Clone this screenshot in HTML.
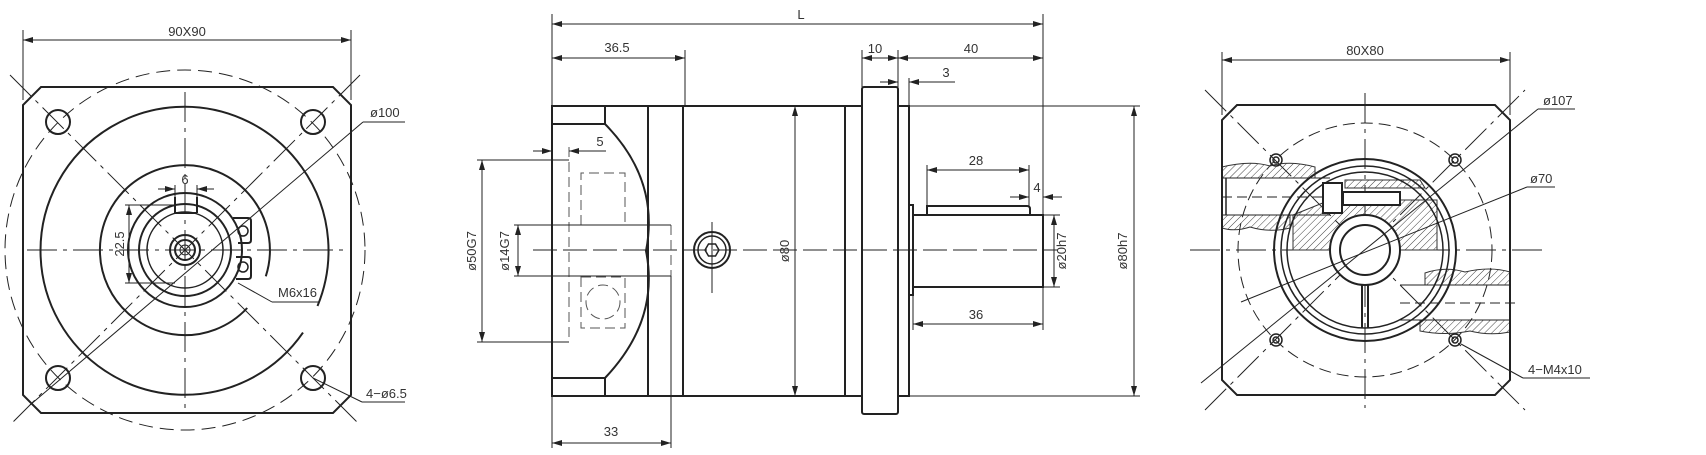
<!DOCTYPE html>
<html><head><meta charset="utf-8"><style>
html,body{margin:0;padding:0;background:#fff;}
svg{display:block;}
text{font-family:"Liberation Sans",sans-serif;fill:#333;font-size:13px;}
</style></head><body>
<svg width="1706" height="455" viewBox="0 0 1706 455" xmlns="http://www.w3.org/2000/svg">
<defs>
<marker id="a" viewBox="0 0 10 6" refX="10" refY="3" markerWidth="10" markerHeight="6" orient="auto-start-reverse" markerUnits="userSpaceOnUse"><path d="M0,0 L10,3 L0,6 z" fill="#222"/></marker>
<pattern id="h" width="5" height="5" patternUnits="userSpaceOnUse" patternTransform="rotate(45)"><line x1="0" y1="0" x2="0" y2="5" stroke="#444" stroke-width="1"/></pattern>
</defs>
<g fill="none" stroke="#222" stroke-width="1">
<!-- ============ LEFT VIEW ============ -->
<line x1="23" y1="30" x2="23" y2="100"/><line x1="351" y1="30" x2="351" y2="100"/>
<line x1="23" y1="40" x2="351" y2="40" marker-start="url(#a)" marker-end="url(#a)"/>
<circle cx="185" cy="250" r="180" stroke-dasharray="14,7"/>
<polygon points="41,87 333,87 351,105 351,395 333,413 41,413 23,395 23,105" stroke-width="2"/>
<line x1="10" y1="75" x2="360" y2="425" stroke-dasharray="30,6,4,6"/>
<line x1="360" y1="75" x2="10" y2="425" stroke-dasharray="30,6,4,6"/>
<line x1="27" y1="250" x2="345" y2="250" stroke-dasharray="30,6,4,6"/>
<line x1="185" y1="92" x2="185" y2="410" stroke-dasharray="30,6,4,6"/>
<g stroke-width="2">
<circle cx="58" cy="122" r="12"/><circle cx="313" cy="122" r="12"/><circle cx="58" cy="378" r="12"/><circle cx="313" cy="378" r="12"/>
<path d="M303,332.6 A144,144 0 1 1 317.5,306"/>
<path d="M247.2,308 A85,85 0 1 1 265.8,276.3"/>
<circle cx="185" cy="250" r="57"/>
<circle cx="185" cy="250" r="46"/>
<circle cx="185" cy="250" r="38" stroke-width="1.5"/>
<circle cx="185" cy="250" r="15"/>
<circle cx="185" cy="250" r="10"/>
<path d="M175,197 L175,213 M197,197 L197,213 M175,213 L197,213"/>
<path d="M233,218 L248,218 Q251,218 251,221 L251,240 Q251,243 248,243 L238,243"/>
<path d="M236,257 L248,257 Q251,257 251,260 L251,276 Q251,279 248,279 L236,279"/>
</g>
<circle cx="243" cy="231" r="5" stroke-width="1.5"/><circle cx="243" cy="267" r="5" stroke-width="1.5"/>
<circle cx="185" cy="250" r="5"/>
<!-- dims -->
<line x1="158" y1="189" x2="175" y2="189" marker-end="url(#a)"/><line x1="214" y1="189" x2="197" y2="189" marker-end="url(#a)"/>
<line x1="175" y1="185" x2="175" y2="198"/><line x1="197" y1="185" x2="197" y2="198"/>
<line x1="125" y1="205" x2="175" y2="205"/><line x1="125" y1="283" x2="175" y2="283"/>
<line x1="129" y1="205" x2="129" y2="283" marker-start="url(#a)" marker-end="url(#a)"/>
<line x1="30" y1="405" x2="363" y2="122"/><line x1="363" y1="122" x2="405" y2="122"/>
<line x1="238" y1="283" x2="272" y2="302"/><line x1="272" y1="302" x2="320" y2="302"/>
<line x1="313" y1="378" x2="362" y2="402"/><line x1="362" y1="402" x2="405" y2="402"/>

<!-- ============ MIDDLE VIEW ============ -->
<line x1="552" y1="14" x2="552" y2="106"/><line x1="1043" y1="14" x2="1043" y2="215"/>
<line x1="552" y1="24" x2="1043" y2="24" marker-start="url(#a)" marker-end="url(#a)"/>
<line x1="685" y1="50" x2="685" y2="106"/>
<line x1="552" y1="58" x2="685" y2="58" marker-start="url(#a)" marker-end="url(#a)"/>
<line x1="862" y1="50" x2="862" y2="87"/><line x1="898" y1="50" x2="898" y2="87"/>
<line x1="862" y1="58" x2="898" y2="58" marker-start="url(#a)" marker-end="url(#a)"/>
<line x1="898" y1="58" x2="1043" y2="58" marker-start="url(#a)" marker-end="url(#a)"/>
<line x1="909" y1="78" x2="909" y2="106"/>
<line x1="880" y1="82" x2="898" y2="82" marker-end="url(#a)"/><line x1="930" y1="82" x2="909" y2="82" marker-end="url(#a)"/>
<line x1="909" y1="82" x2="955" y2="82"/>
<g stroke-width="2">
<polyline points="862,106 552,106 552,396 862,396"/>
<line x1="552" y1="124" x2="605" y2="124"/><line x1="552" y1="378" x2="605" y2="378"/>
<line x1="605" y1="106" x2="605" y2="124"/><line x1="605" y1="378" x2="605" y2="396"/>
<path d="M605,124 Q660,180 646,251 Q660,320 605,378"/>
<line x1="648" y1="106" x2="648" y2="396"/>
<line x1="683" y1="106" x2="683" y2="396"/>
<line x1="845" y1="106" x2="845" y2="396"/>
<rect x="862" y="87" width="36" height="327" rx="2"/>
<polyline points="898,106 909,106 909,396 898,396"/>
<polyline points="909,205 913,205 913,295 909,295"/>
<polyline points="913,215 1043,215 1043,287 913,287"/>
<path d="M927,215 L927,206 L1027,206 Q1030,206 1030,209 L1030,215"/>
</g>
<line x1="533" y1="250" x2="1058" y2="250" stroke-dasharray="24,6"/>
<!-- hex bolt -->
<circle cx="712" cy="250" r="18" stroke-width="2"/><circle cx="712" cy="250" r="14" stroke-width="1.5"/>
<polygon points="719,250 715.5,256 708.5,256 705,250 708.5,244 715.5,244" stroke-width="1.5"/>
<line x1="712" y1="222" x2="712" y2="293"/>
<!-- hidden lines -->
<g stroke="#555" stroke-dasharray="10,5">
<line x1="569" y1="147" x2="569" y2="342"/>
<polyline points="581,225 581,173 625,173 625,225"/>
<rect x="581" y="277" width="44" height="51"/>
<circle cx="603" cy="302" r="17"/>
<line x1="671" y1="225" x2="671" y2="276"/>
</g>
<line x1="514" y1="225" x2="671" y2="225"/><line x1="514" y1="276" x2="671" y2="276"/>
<line x1="518" y1="225" x2="518" y2="276" marker-start="url(#a)" marker-end="url(#a)"/>
<line x1="477" y1="160" x2="569" y2="160"/><line x1="477" y1="342" x2="569" y2="342"/>
<line x1="482" y1="160" x2="482" y2="342" marker-start="url(#a)" marker-end="url(#a)"/>
<line x1="533" y1="151" x2="552" y2="151" marker-end="url(#a)"/><line x1="590" y1="151" x2="569" y2="151" marker-end="url(#a)"/>
<line x1="569" y1="151" x2="606" y2="151"/>
<line x1="671" y1="276" x2="671" y2="448"/><line x1="552" y1="396" x2="552" y2="448"/>
<line x1="552" y1="443" x2="671" y2="443" marker-start="url(#a)" marker-end="url(#a)"/>
<line x1="795" y1="106" x2="795" y2="396" marker-start="url(#a)" marker-end="url(#a)"/>
<line x1="927" y1="165" x2="927" y2="206"/><line x1="1029" y1="165" x2="1029" y2="206"/>
<line x1="927" y1="170" x2="1029" y2="170" marker-start="url(#a)" marker-end="url(#a)"/>
<line x1="1010" y1="197" x2="1029" y2="197" marker-end="url(#a)"/><line x1="1062" y1="197" x2="1043" y2="197" marker-end="url(#a)"/>
<line x1="913" y1="295" x2="913" y2="330"/>
<line x1="913" y1="324" x2="1043" y2="324" marker-start="url(#a)" marker-end="url(#a)"/>
<line x1="1043" y1="287" x2="1043" y2="330"/>
<line x1="1043" y1="215" x2="1060" y2="215"/><line x1="1043" y1="287" x2="1060" y2="287"/>
<line x1="1054" y1="215" x2="1054" y2="287" marker-start="url(#a)" marker-end="url(#a)"/>
<line x1="909" y1="106" x2="1140" y2="106"/><line x1="909" y1="396" x2="1140" y2="396"/>
<line x1="1134" y1="106" x2="1134" y2="396" marker-start="url(#a)" marker-end="url(#a)"/>

<!-- ============ RIGHT VIEW ============ -->
<line x1="1222" y1="52" x2="1222" y2="115"/><line x1="1510" y1="52" x2="1510" y2="115"/>
<line x1="1222" y1="60" x2="1510" y2="60" marker-start="url(#a)" marker-end="url(#a)"/>
<circle cx="1365" cy="250" r="127" stroke-dasharray="12,6"/>
<line x1="1205" y1="90" x2="1525" y2="410" stroke-dasharray="30,6,4,6"/>
<line x1="1205" y1="410" x2="1525" y2="90" stroke-dasharray="30,6,4,6"/>
<line x1="1190" y1="250" x2="1542" y2="250" stroke-dasharray="30,6,4,6"/>
<line x1="1365" y1="93" x2="1365" y2="408" stroke-dasharray="30,6,4,6"/>
<g fill="url(#h)" stroke="#333">
<path d="M1222,167 Q1250,160 1270,166 Q1290,160 1315,167 L1315,178 L1222,178 Z"/>
<path d="M1222,215 L1290,215 L1290,228 Q1270,233 1250,227 Q1235,232 1222,228 Z"/>
<path d="M1425,273 Q1445,266 1465,272 Q1490,266 1510,272 L1510,285 L1425,285 Z"/>
<path d="M1420,320 L1510,320 L1510,332 Q1490,336 1470,331 Q1445,336 1420,331 Z"/>
<path d="M1293,250 L1293,215 L1330,200 L1437,200 L1437,250 Z"/>
<path d="M1345,180 L1420,180 L1425,188 L1345,188 Z"/>
</g>
<line x1="1226" y1="178" x2="1226" y2="215" stroke-width="1.5"/>
<line x1="1222" y1="178" x2="1330" y2="178"/><line x1="1222" y1="215" x2="1330" y2="215"/>
<line x1="1222" y1="197" x2="1340" y2="197" stroke-dasharray="10,5"/>
<line x1="1400" y1="285" x2="1510" y2="285"/><line x1="1400" y1="320" x2="1510" y2="320"/>
<line x1="1400" y1="303" x2="1515" y2="303" stroke-dasharray="10,5"/>
<g stroke-width="2">
<polygon points="1237,105 1495,105 1510,120 1510,380 1495,395 1237,395 1222,380 1222,120"/>
<circle cx="1365" cy="250" r="91"/>
<circle cx="1365" cy="250" r="84" stroke-width="1.5"/>
<circle cx="1365" cy="250" r="78" stroke-width="1.5"/>
<circle cx="1365" cy="250" r="35" fill="#fff"/>
<circle cx="1365" cy="250" r="25"/>
<rect x="1323" y="183" width="19" height="30" fill="#fff"/>
<rect x="1343" y="192" width="57" height="13" fill="#fff"/>
<line x1="1362" y1="285" x2="1362" y2="328"/><line x1="1368" y1="285" x2="1368" y2="328"/>
</g>
<g stroke-width="1.5">
<circle cx="1276" cy="160" r="6"/><circle cx="1455" cy="160" r="6"/><circle cx="1276" cy="340" r="6"/><circle cx="1455" cy="340" r="6"/>
<circle cx="1276" cy="160" r="3"/><circle cx="1455" cy="160" r="3"/><circle cx="1276" cy="340" r="3"/><circle cx="1455" cy="340" r="3"/>
</g>
<line x1="1201" y1="383" x2="1538" y2="109"/><line x1="1538" y1="109" x2="1575" y2="109"/>
<line x1="1241" y1="302" x2="1527" y2="187"/><line x1="1527" y1="187" x2="1555" y2="187"/>
<line x1="1461" y1="344" x2="1523" y2="378"/><line x1="1523" y1="378" x2="1590" y2="378"/>
</g>
<!-- TEXT -->
<text x="187" y="36" text-anchor="middle">90X90</text>
<text x="370" y="117">ø100</text>
<text x="185" y="184" text-anchor="middle">6</text>
<text transform="translate(124,244) rotate(-90)" text-anchor="middle">22.5</text>
<text x="278" y="297">M6x16</text>
<text x="366" y="398">4−ø6.5</text>
<text x="801" y="19" text-anchor="middle">L</text>
<text x="617" y="52" text-anchor="middle">36.5</text>
<text x="875" y="53" text-anchor="middle">10</text>
<text x="971" y="53" text-anchor="middle">40</text>
<text x="946" y="77" text-anchor="middle">3</text>
<text x="600" y="146" text-anchor="middle">5</text>
<text x="976" y="165" text-anchor="middle">28</text>
<text x="1037" y="192" text-anchor="middle">4</text>
<text x="976" y="319" text-anchor="middle">36</text>
<text x="611" y="436" text-anchor="middle">33</text>
<text transform="translate(476,251) rotate(-90)" text-anchor="middle" font-size="14">ø50G7</text>
<text transform="translate(509,251) rotate(-90)" text-anchor="middle" font-size="14">ø14G7</text>
<text transform="translate(789,251) rotate(-90)" text-anchor="middle" font-size="14">ø80</text>
<text transform="translate(1066,251) rotate(-90)" text-anchor="middle">ø20h7</text>
<text transform="translate(1127,251) rotate(-90)" text-anchor="middle">ø80h7</text>
<text x="1365" y="55" text-anchor="middle">80X80</text>
<text x="1543" y="105">ø107</text>
<text x="1530" y="183">ø70</text>
<text x="1528" y="374">4−M4x10</text>
</svg>
</body></html>
